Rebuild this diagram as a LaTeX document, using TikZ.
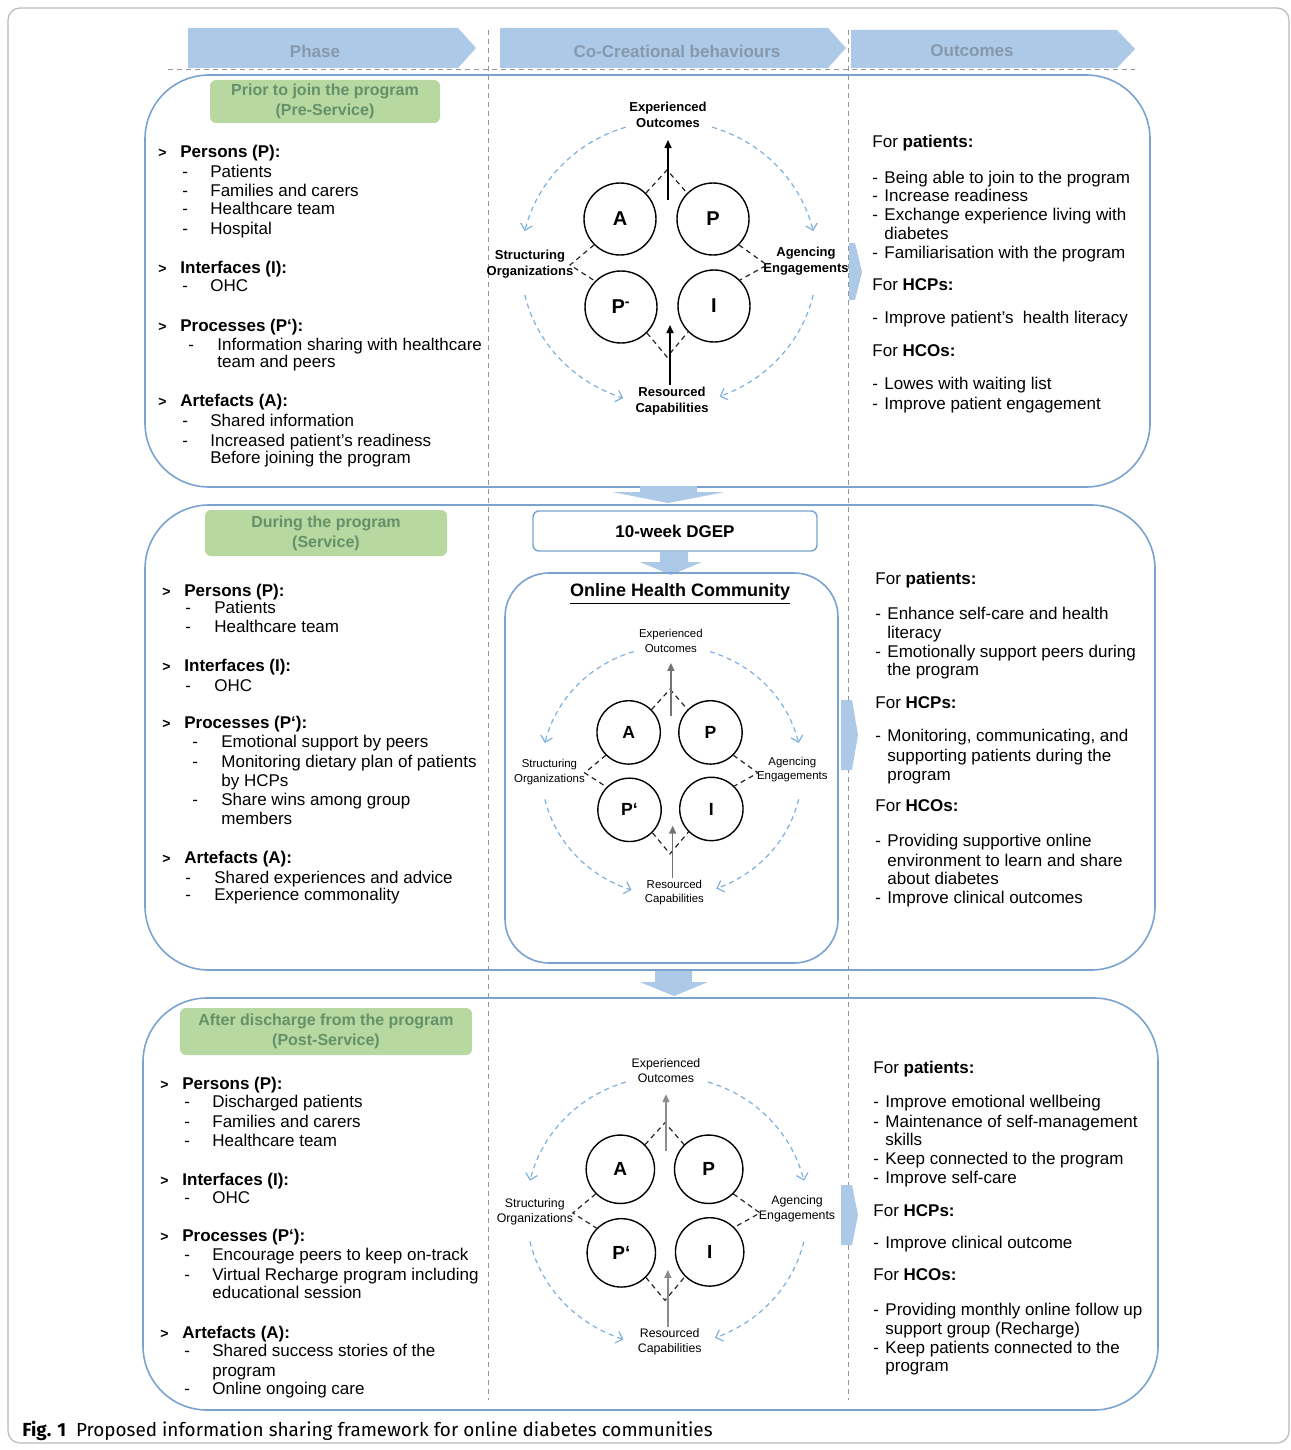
\documentclass[tikz,border=0pt]{standalone}
\usepackage{fontspec}
\setmainfont{Liberation Sans}
\newfontfamily\capfont{Fira Sans}
\usetikzlibrary{arrows.meta,shapes.geometric}

\definecolor{hdrfill}{RGB}{172,202,232}
\definecolor{hdrtext}{RGB}{135,152,172}
\definecolor{secline}{RGB}{122,163,207}
\definecolor{greenfill}{RGB}{183,216,160}
\definecolor{greentext}{RGB}{100,145,105}
\definecolor{arcblue}{RGB}{128,176,222}
\definecolor{framegray}{RGB}{185,185,185}
\definecolor{guidegray}{RGB}{150,150,150}

\newcounter{tl}
\newcommand\tline[3]{\stepcounter{tl}\node[txt] (t\arabic{tl}) at (#1,#2) {#3};}
\newcommand\itm[4]{\stepcounter{tl}\node[txt] (t\arabic{tl}) at (#1,#3) {-};%
  \stepcounter{tl}\node[txt] (t\arabic{tl}) at (#2,#3) {#4};}
\newcommand\grphd[3]{\stepcounter{tl}\node[txt,font=\fontsize{7}{8}\selectfont\bfseries] (t\arabic{tl}) at (#1,#2) {>};%
  \stepcounter{tl}\node[txt,font=\fontsize{8.5}{10}\selectfont\bfseries] (t\arabic{tl}) at ({#1+22},#2) {#3};}
\newcommand\fhd[3]{\stepcounter{tl}\node[txt] (t\arabic{tl}) at (#1,#2) {For \textbf{#3:}};}

% co-creation diagram: #1 prefix, #2 cx, #3 cy, #4 scale, #5 mark after P, #6 scope options
\newcommand\cocreate[6]{%
\begin{scope}[shift={(#2,#3)},scale=#4,transform shape,#6]
 \node[circ] (#1A) at (-47,-45) {A};
 \node[circ] (#1P) at (46,-45) {P};
 \node[circ] (#1Q) at (-46,43) {P#5};
 \node[circ] (#1I) at (47,42) {I};
 \coordinate (#1top) at (0,-94);
 \coordinate (#1bot) at (0,93);
 \coordinate (#1lft) at (-97,1);
 \coordinate (#1rgt) at (100,1);
 \node[lbl] (#1EO) at (1,-149) {Experienced\\Outcomes};
 \node[lbl] (#1SO) at (-137,0) {Structuring\\Organizations};
 \node[lbl] (#1AE) at (139,-3) {Agencing\\Engagements};
 \node[lbl] (#1RC) at (5,137) {Resourced\\Capabilities};
 \coordinate (#1u1) at (1,-64); \coordinate (#1u2) at (1,-124);
 \coordinate (#1d1) at (3,121); \coordinate (#1d2) at (3,61);
 \draw[blkdash] (#1A.45) -- (#1top) -- (#1P.135);
 \draw[blkdash] (#1A.225) -- (#1lft) -- (#1Q.135);
 \draw[blkdash] (#1P.315) -- (#1rgt) -- (#1I.45);
 \draw[blkdash] (#1Q.315) -- (#1bot) -- (#1I.225);
 \draw[shaft] (#1u1) -- (#1u2);
 \draw[shaft] (#1d1) -- (#1d2);
 \draw[arcb] plot[domain=107:167,samples=30] ({2+148*cos(\x)},{-1-142*sin(\x)});
 \draw[arcb] plot[domain=73:13,samples=30] ({2+148*cos(\x)},{-1-142*sin(\x)});
 \draw[arcb] plot[domain=193:252,samples=30] ({2+148*cos(\x)},{-1-142*sin(\x)});
 \draw[arcb] plot[domain=347:290,samples=30] ({2+148*cos(\x)},{-1-142*sin(\x)});
\end{scope}}

\begin{document}
\begin{tikzpicture}[x=0.5pt,y=-0.5pt,
  txt/.style={anchor=base west,inner sep=0pt,font=\fontsize{8.5}{10}\selectfont,text=black},
  hdr/.style={font=\fontsize{8.5}{10}\selectfont\bfseries,text=hdrtext,inner sep=0pt},
  secbox/.style={draw=secline,line width=0.8pt,rounded corners=32pt},
  greenbox/.style={fill=greenfill,rounded corners=3pt,align=center,text=greentext,
     font=\fontsize{8}{10}\selectfont\bfseries,inner sep=0pt},
  circ/.style={circle,draw=black,line width=0.7pt,minimum size=36pt,inner sep=0pt,
     font=\fontsize{10}{12}\selectfont\bfseries},
  lbl/.style={align=center,inner sep=0pt,font=\fontsize{6.5}{8}\selectfont},
  blkdash/.style={draw=black!85,line width=0.6pt,dash pattern=on 2.5pt off 2pt},
  shaft/.style={draw=black,line width=0.8pt,-{Triangle[length=4pt,width=3.5pt]}},
  arcb/.style={draw=arcblue,line width=0.6pt,dash pattern=on 2.5pt off 2pt,
     -{Straight Barb[length=3pt,width=6pt]}},
  guide/.style={draw=guidegray,line width=0.5pt,dash pattern=on 2.5pt off 2pt},
  bluearrow/.style={fill=hdrfill}
]
\useasboundingbox (0,0) rectangle (1290,1450);
\fill[white] (0,0) rectangle (1290,1450);
\draw[framegray,line width=0.6pt,rounded corners=6pt] (8,8) rectangle (1289,1443);

% header chevrons
\fill[hdrfill] (188,28) -- (458,28) -- (476,48) -- (458,68) -- (188,68) -- cycle;
\node[hdr] (h1) at (315,51) {Phase};
\fill[hdrfill] (500,28) -- (828,28) -- (846,48) -- (828,68) -- (500,68) -- cycle;
\node[hdr] (h2) at (677,51) {Co-Creational behaviours};
\fill[hdrfill] (851,30) -- (1117,30) -- (1135,49) -- (1117,68) -- (851,68) -- cycle;
\node[hdr] (h3) at (972,51) {Outcomes};

% section boxes
\draw[secbox] (145,75) rectangle (1150,487);
\draw[secbox] (145,505) rectangle (1155,970);
\draw[secbox] (143,998) rectangle (1158,1410);

% guides
\draw[guide] (168,70) -- (1135,70);
\draw[guide] (488,30) -- (488,1400);
\draw[guide] (848,30) -- (848,1400);

% down arrows
\fill[bluearrow] (640,486) -- (697,486) -- (697,492) -- (725,492) -- (668,503) -- (612,492) -- (640,492) -- cycle;
\fill[bluearrow] (660,552) -- (688,552) -- (688,562) -- (702,562) -- (671,575) -- (640,562) -- (660,562) -- cycle;
\fill[bluearrow] (655,971) -- (692,971) -- (692,982) -- (708,982) -- (674,996) -- (640,982) -- (655,982) -- cycle;

% side arrows
\fill[bluearrow] (849,243) -- (855,243) -- (862,272) -- (855,300) -- (849,300) -- cycle;
\fill[bluearrow] (841,700) -- (852,700) -- (858,735) -- (852,770) -- (841,770) -- cycle;
\fill[bluearrow] (841,1185) -- (852,1185) -- (858,1215) -- (852,1245) -- (841,1245) -- cycle;

% green phase labels
\node[greenbox,minimum width=115pt,minimum height=21.5pt] (g1) at (325,101.5) {Prior to join the program\\(Pre-Service)};
\node[greenbox,minimum width=121pt,minimum height=23pt] (g2) at (326,533) {During the program\\(Service)};
\node[greenbox,minimum width=146pt,minimum height=23.5pt] (g3) at (326,1031.5) {After discharge from the program\\(Post-Service)};

% DGEP and OHC
\node[draw=secline,line width=0.7pt,rounded corners=3pt,minimum width=142pt,minimum height=20pt,
  font=\fontsize{8.5}{10}\selectfont\bfseries,inner sep=0pt] (dgep) at (675,531) {10-week DGEP};
\draw[draw=secline,line width=0.8pt,rounded corners=22pt] (505,573) rectangle (838,963);
\node[font=\fontsize{9}{11}\selectfont\bfseries,inner sep=0pt] (ohc) at (680,594) {\underline{Online Health Community}};

% diagrams
\cocreate{a}{667}{264}{1}{\textsuperscript{-}}{lbl/.append style={font=\fontsize{6.5}{8}\selectfont\bfseries}}
\cocreate{b}{670}{772}{0.88}{`}{shaft/.append style={draw=black!55}}
\cocreate{c}{665}{1212}{0.95}{`}{shaft/.append style={draw=black!45}}

% ---- section 1 texts
\grphd{158}{157}{Persons (P):}
\itm{182}{210}{177}{Patients}
\itm{182}{210}{196}{Families and carers}
\itm{182}{210}{214}{Healthcare team}
\itm{182}{210}{234}{Hospital}
\grphd{158}{273}{Interfaces (I):}
\itm{182}{210}{291}{OHC}
\grphd{158}{331}{Processes (P`):}
\itm{188}{217}{350}{Information sharing with healthcare}
\tline{217}{367}{team and peers}
\grphd{158}{406}{Artefacts (A):}
\itm{182}{210}{426}{Shared information}
\itm{182}{210}{446}{Increased patient's readiness}
\tline{210}{463}{Before joining the program}

\fhd{872}{148}{patients}
\itm{872}{884}{183}{Being able to join to the program}
\itm{872}{884}{201}{Increase readiness}
\itm{872}{884}{220}{Exchange experience living with}
\tline{884}{239}{diabetes}
\itm{872}{884}{258}{Familiarisation with the program}
\fhd{872}{290}{HCPs}
\itm{872}{884}{323}{Improve patient's\ \ health literacy}
\fhd{872}{356}{HCOs}
\itm{872}{884}{389}{Lowes with waiting list}
\itm{872}{884}{409}{Improve patient engagement}

% ---- section 2 texts
\grphd{162}{596}{Persons (P):}
\itm{185}{214}{613}{Patients}
\itm{185}{214}{632}{Healthcare team}
\grphd{162}{671}{Interfaces (I):}
\itm{185}{214}{691}{OHC}
\grphd{162}{728}{Processes (P`):}
\itm{192}{221}{747}{Emotional support by peers}
\itm{192}{221}{767}{Monitoring dietary plan of patients}
\tline{221}{786}{by HCPs}
\itm{192}{221}{805}{Share wins among group}
\tline{221}{824}{members}
\grphd{162}{863}{Artefacts (A):}
\itm{185}{214}{883}{Shared experiences and advice}
\itm{185}{214}{900}{Experience commonality}

\fhd{875}{584}{patients}
\itm{875}{887}{619}{Enhance self-care and health}
\tline{887}{638}{literacy}
\itm{875}{887}{657}{Emotionally support peers during}
\tline{887}{675}{the program}
\fhd{875}{708}{HCPs}
\itm{875}{887}{741}{Monitoring, communicating, and}
\tline{887}{761}{supporting patients during the}
\tline{887}{780}{program}
\fhd{875}{811}{HCOs}
\itm{875}{887}{846}{Providing supportive online}
\tline{887}{866}{environment to learn and share}
\tline{887}{884}{about diabetes}
\itm{875}{887}{903}{Improve clinical outcomes}

% ---- section 3 texts
\grphd{160}{1089}{Persons (P):}
\itm{184}{212}{1107}{Discharged patients}
\itm{184}{212}{1127}{Families and carers}
\itm{184}{212}{1146}{Healthcare team}
\grphd{160}{1185}{Interfaces (I):}
\itm{184}{212}{1203}{OHC}
\grphd{160}{1241}{Processes (P`):}
\itm{184}{212}{1260}{Encourage peers to keep on-track}
\itm{184}{212}{1280}{Virtual Recharge program including}
\tline{212}{1298}{educational session}
\grphd{160}{1338}{Artefacts (A):}
\itm{184}{212}{1356}{Shared success stories of the}
\tline{212}{1376}{program}
\itm{184}{212}{1394}{Online ongoing care}

\fhd{873}{1073}{patients}
\itm{873}{885}{1107}{Improve emotional wellbeing}
\itm{873}{885}{1127}{Maintenance of self-management}
\tline{885}{1145}{skills}
\itm{873}{885}{1164}{Keep connected to the program}
\itm{873}{885}{1183}{Improve self-care}
\fhd{873}{1216}{HCPs}
\itm{873}{885}{1248}{Improve clinical outcome}
\fhd{873}{1280}{HCOs}
\itm{873}{885}{1315}{Providing monthly online follow up}
\tline{885}{1334}{support group (Recharge)}
\itm{873}{885}{1353}{Keep patients connected to the}
\tline{885}{1371}{program}

% caption
\node[anchor=base west,inner sep=0pt,font=\capfont\fontsize{9.45}{11}\selectfont] (cap) at (22,1436)
  {\textbf{Fig. 1}\ \ Proposed information sharing framework for online diabetes communities};
\end{tikzpicture}
\end{document}
